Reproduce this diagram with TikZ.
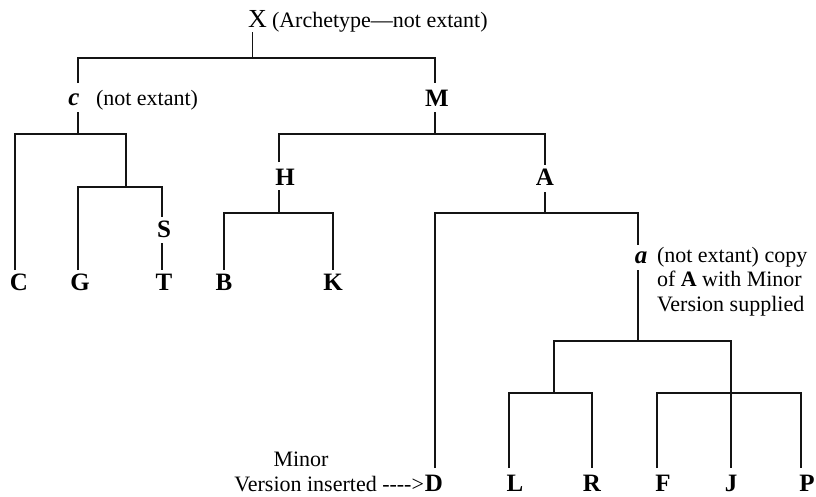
\documentclass[tikz,border=0pt]{standalone}
\usepackage{fontspec}
\setmainfont{Liberation Serif}
\begin{document}
\begin{tikzpicture}[x=1pt,y=-1pt,
  conn/.style={line width=1.8pt, line join=miter, color=black!92},
  lbl/.style={inner sep=0pt, outer sep=0pt, anchor=base,
    font=\fontsize{25}{25}\selectfont\bfseries},
  ilbl/.style={lbl, font=\fontsize{25}{25}\selectfont\bfseries\itshape},
  txt/.style={inner sep=0pt, outer sep=0pt, anchor=base west,
    font=\fontsize{22}{24}\selectfont},
  leaftop/.style={lbl, text height=20pt, text depth=0pt},
  leafbot/.style={lbl, text height=23pt, text depth=0pt}
]
\useasboundingbox (0,0) rectangle (816,496);
\fill[white] (0,0) rectangle (816,496);

% ---- labels ----
\node[inner sep=0pt, outer sep=0pt, anchor=base, text depth=5pt,
      font=\fontsize{26}{26}\selectfont] (X) at (257.5,27) {X};
\node[txt] (Xnote) at (272,27) {(Archetype---not extant)};

\node[ilbl, text height=22pt, text depth=7pt] (c) at (74,105) {c};
\node[txt] (cnote) at (96,105) {(not extant)};
\node[lbl, text height=23pt, text depth=6pt] (M) at (437,106) {M};

\node[lbl, text height=23pt, text depth=5pt] (H) at (285,185) {H};
\node[lbl, text height=20pt, text depth=7pt] (A) at (545,185) {A};
\node[lbl, text height=20pt, text depth=6pt] (S) at (164,237) {S};

\node[ilbl, text height=18pt, text depth=7pt] (a) at (641,263) {a};
\node[txt] (a1) at (657,262) {(not extant) copy};
\node[txt] (a2) at ([yshift=-24.5pt]a1.base west) {of \textbf{A} with Minor};
\node[txt] (a3) at ([yshift=-24.5pt]a2.base west) {Version supplied};

\node[leaftop] (C) at (19,290) {C};
\node[leaftop] (G) at (80,290) {G};
\node[leaftop] (T) at (164,290) {T};
\node[leaftop] (B) at (224,290) {B};
\node[leaftop] (K) at (333,290) {K};

\node[leafbot] (D) at (434,491) {D};
\node[leafbot] (L) at (515,491) {L};
\node[leafbot] (R) at (592,491) {R};
\node[leafbot] (F) at (663,491) {F};
\node[leafbot] (J) at (731,491) {J};
\node[leafbot] (P) at (807,491) {P};

\node[txt, anchor=base east] (ins) at ([xshift=-1pt]D.base west) {Version inserted {-}{-}{-}{-}{>}};
\node[txt, anchor=base] (minor) at (301,466) {Minor};

% ---- bar coordinates ----
\coordinate (xL) at (78,58);   \coordinate (xR) at (435,58);  \coordinate (xm) at (252.5,58);
\coordinate (cL) at (15,134);  \coordinate (cR) at (126,134); \coordinate (cm) at (78,134);
\coordinate (gL) at (78,187);  \coordinate (gR) at (162,187); \coordinate (gm) at (126,187);
\coordinate (mL) at (279,134); \coordinate (mR) at (545,134); \coordinate (mm) at (435,134);
\coordinate (hL) at (224,213); \coordinate (hR) at (333,213); \coordinate (hm) at (279,213);
\coordinate (aL) at (435,213); \coordinate (aR) at (638,213); \coordinate (am) at (545,213);
\coordinate (sL) at (554,341); \coordinate (sR) at (731,341); \coordinate (sm) at (638,341);
\coordinate (lL) at (509,393); \coordinate (lR) at (592,393); \coordinate (lm) at (554,393);
\coordinate (fL) at (657,393); \coordinate (fR) at (801,393);

% ---- connectors ----
\draw[conn] (X.south -| xm) -- (xm);
\draw[conn] (c.north -| xL) -- (xL) -- (xR) -- (M.north -| xR);

\draw[conn] (c.south -| cm) -- (cm);
\draw[conn] (C.north -| cL) -- (cL) -- (cR) -- (gm);
\draw[conn] (G.north -| gL) -- (gL) -- (gR) -- (S.north -| gR);
\draw[conn] (S.south -| gR) -- (T.north -| gR);

\draw[conn] (M.south -| mm) -- (mm);
\draw[conn] (H.north -| mL) -- (mL) -- (mR) -- (A.north -| mR);

\draw[conn] (H.south -| hm) -- (hm);
\draw[conn] (B.north -| hL) -- (hL) -- (hR) -- (K.north -| hR);

\draw[conn] (A.south -| am) -- (am);
\draw[conn] (D.north -| aL) -- (aL) -- (aR) -- (a.north -| aR);

\draw[conn] (a.south -| sm) -- (sm);
\draw[conn] (lm) -- (sL) -- (sR) -- (J.north -| sR);
\draw[conn] (L.north -| lL) -- (lL) -- (lR) -- (R.north -| lR);
\draw[conn] (F.north -| fL) -- (fL) -- (fR) -- (P.north -| fR);
\end{tikzpicture}
\end{document}
